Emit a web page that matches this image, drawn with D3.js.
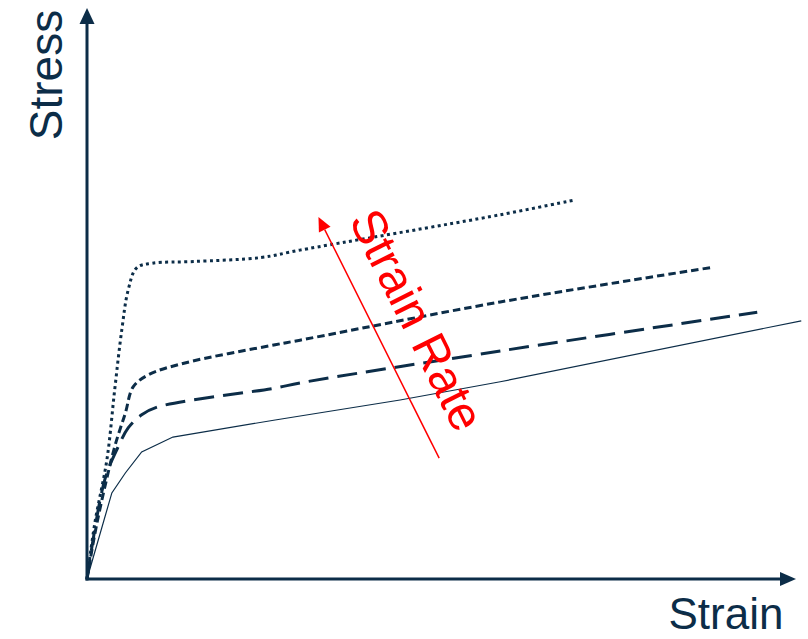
<!DOCTYPE html>
<html><head><meta charset="utf-8">
<script src="https://cdn.jsdelivr.net/npm/d3@7"></script>
<style>body{margin:0;background:#fff}svg{display:block}</style>
</head><body>
<svg id="c" width="808" height="639"></svg>
<script>
// Data (strain %, stress arbitrary units)
const solidStrain  = [0, 3.5, 5.4, 7.7, 12.1, 26.5, 44.1, 58.2, 100.6];
const solidStress  = [0, 15.1, 18.6, 22.3, 24.9, 27.9, 31.4, 34.6, 45.3];
const longStrain   = [0, 2.5, 4.4, 5.8, 7.7, 10.0, 26.5, 30.0, 58.2, 94.4];
const longStress   = [0, 17.4, 23.2, 26.5, 28.8, 30.2, 33.5, 34.4, 40.0, 46.8];
const shortStrain  = [0, 1.4, 3.9, 5.4, 6.5, 8.6, 13.8, 26.5, 30.0, 58.2, 88.2];
const shortStress  = [0, 9.8, 23.2, 29.1, 33.7, 35.8, 37.9, 41.1, 41.9, 48.6, 54.7];
const dotStrain    = [0, 1.1, 2.8, 3.9, 4.9, 5.8, 7.0, 9.2, 15.0, 24.5, 30.0, 58.2, 68.7];
const dotStress    = [0, 9.8, 20.9, 33.2, 43.7, 50.7, 54.6, 55.4, 55.7, 56.4, 57.7, 63.9, 66.5];
const rateArrowStrain = [49.6, 32.6];
const rateArrowStress = [21.2, 63.5];
const xLabel = "Strain", yLabel = "Stress", rateLabel = "Strain Rate";

const navy = "#0c2d48";
const svg = d3.select("#c");
const x = d3.scaleLinear().domain([0,100]).range([87,797]);
const y = d3.scaleLinear().domain([0,100]).range([579,9]);

const zip = (a,b)=>a.map((v,i)=>[v,b[i]]);
const line = d3.line().x(d=>x(d[0])).y(d=>y(d[1]));
const smooth = d3.line().x(d=>x(d[0])).y(d=>y(d[1])).curve(d3.curveCatmullRom.alpha(0.5));

// curves
svg.append("path").attr("d", line(zip(solidStrain, solidStress)))
  .attr("fill","none").attr("stroke",navy).attr("stroke-width",1.2);
svg.append("path").attr("d", smooth(zip(longStrain, longStress)))
  .attr("fill","none").attr("stroke",navy).attr("stroke-width",3).attr("stroke-dasharray","20,9");
svg.append("path").attr("d", smooth(zip(shortStrain, shortStress)))
  .attr("fill","none").attr("stroke",navy).attr("stroke-width",3).attr("stroke-dasharray","7.5,4");
svg.append("path").attr("d", smooth(zip(dotStrain, dotStress)))
  .attr("fill","none").attr("stroke",navy).attr("stroke-width",3).attr("stroke-dasharray","3,3.4");

// axes
const x0 = x(0), y0 = y(0);
svg.append("line").attr("x1",x0).attr("y1",y0+1.5).attr("x2",x0).attr("y2",y(100)+12)
  .attr("stroke",navy).attr("stroke-width",3);
svg.append("line").attr("x1",x0-1.5).attr("y1",y0).attr("x2",x(100)-14).attr("y2",y0)
  .attr("stroke",navy).attr("stroke-width",3);
svg.append("path").attr("d",`M${x0},${y(100)-1} L${x0-7.5},${y(100)+15} L${x0+7.5},${y(100)+15} Z`).attr("fill",navy);
svg.append("path").attr("d",`M${x(100)-1},${y0} L${x(100)-17},${y0-7} L${x(100)-17},${y0+7} Z`).attr("fill",navy);

// axis labels
svg.append("text").text(xLabel).attr("x",726).attr("y",629).attr("text-anchor","middle")
  .attr("font-family","Liberation Sans, Arial, sans-serif").attr("font-size",44).attr("fill",navy);
svg.append("text").text(yLabel).attr("transform","translate(62,75) rotate(-90)").attr("text-anchor","middle")
  .attr("font-family","Liberation Sans, Arial, sans-serif").attr("font-size",46).attr("fill",navy);

// strain rate arrow
const ax1 = x(rateArrowStrain[0]), ay1 = y(rateArrowStress[0]);
const ax2 = x(rateArrowStrain[1]), ay2 = y(rateArrowStress[1]);
const ang = Math.atan2(ay2-ay1, ax2-ax1);
const hl = 14, hw = 6.5;
const bx = ax2 - hl*Math.cos(ang), by = ay2 - hl*Math.sin(ang);
svg.append("line").attr("x1",ax1).attr("y1",ay1).attr("x2",bx).attr("y2",by)
  .attr("stroke","#ff0000").attr("stroke-width",1.5);
svg.append("path").attr("d",`M${ax2},${ay2} L${bx - hw*Math.sin(ang)},${by + hw*Math.cos(ang)} L${bx + hw*Math.sin(ang)},${by - hw*Math.cos(ang)} Z`)
  .attr("fill","#ff0000");
const deg = Math.atan2(ay1-ay2, ax1-ax2)*180/Math.PI;
svg.append("text").text(rateLabel).attr("transform",`translate(417,320) rotate(${deg})`)
  .attr("text-anchor","middle").attr("dominant-baseline","central")
  .attr("font-family","Liberation Sans, Arial, sans-serif").attr("font-size",48).attr("fill","#ff0000");
</script>
</body></html>
